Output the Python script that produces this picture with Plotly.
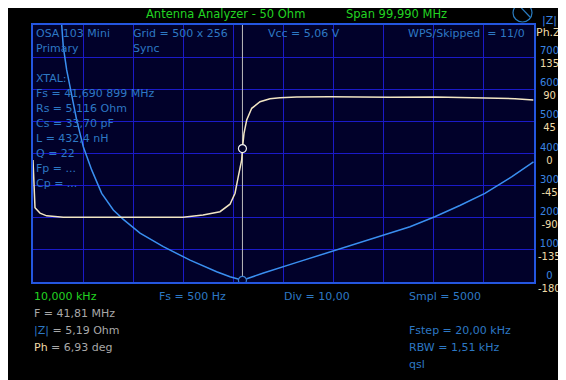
import plotly.graph_objects as go

# ---- data ----
z_freq_mhz = [5.5, 5.74, 6.06, 6.73, 7.73, 8.73, 10.05, 11.72, 13.72, 16.04, 18.03, 21.37,
              26.02, 31.35, 36.67, 39.33, 41.81, 46.0, 52.67, 59.3, 65.97, 71.26, 75.25,
              80.2, 85.2, 90.2, 95.6, 99.9]
z_ohm = [850, 800, 732, 660, 577, 504, 421, 349, 276, 224, 195, 152,
         110, 68, 32, 16.5, 5.19, 28, 61, 93, 125, 152, 172,
         203, 238, 276, 328, 374]

ph_freq_mhz = [0.01, 0.21, 0.41, 1.41, 2.74, 6.06, 15.0, 29.95, 33.94, 37.33, 39.33, 40.33,
               40.98, 41.66, 41.81, 42.12, 42.66, 43.66, 45.32, 47.31, 49.31, 52.64, 59.29,
               71.26, 80.24, 90.22, 96.2, 99.86]
ph_deg = [-9, -45, -76, -83.5, -87.3, -89.4, -89.4, -89.4, -86.1, -81.5, -71, -55.7,
          -32.5, -9.1, 6.93, 28.3, 46.9, 63.3, 72.5, 76.8, 78.2, 79.1, 79.6,
          78.7, 79.1, 78.2, 76.8, 75.0]

marker_f = 41.81
marker_z = 5.19
marker_ph = 6.93

f_start, f_stop = 0.01, 100.0
z_ticks = [0, 100, 200, 300, 400, 500, 600, 700]
ph_ticks = [-180, -135, -90, -45, 0, 45, 90, 135]

header_left = ["OSA 103 Mini", "Primary"]
header_mid = ["Grid = 500 x 256", "Sync"]
xtal_lines = ["XTAL:", "Fs = 41,690 899 MHz", "Rs = 5,116 Ohm", "Cs = 33,70 pF",
              "L = 432,4 nH", "Q = 22", "Fp = ...", "Cp = ..."]

# ---- colours / fonts ----
FONT = "DejaVu Sans"
GREEN = "#22d422"
TXT_BLUE = "#2d78c4"
SCALE_BLUE = "#3a84e0"
Z_BLUE = "#3a8ff0"
PH_COL = "#f2e6c4"
PH_LABEL = "#f0dca8"
GREY = "#a8a8a8"
GRID = "#1a1ac8"
FRAME = "#2456e0"

# page offset (default body margin of the html page)
OFF = 8
W, H = 566, 380
L, T, R, B = 33, 25, 534, 282


def px(x):
    return (x - L) / (R - L)


def py(y):
    return (B - y) / (B - T)


fig = go.Figure()

fig.add_trace(go.Scatter(x=ph_freq_mhz, y=ph_deg, yaxis="y2", mode="lines",
                         line=dict(color=PH_COL, width=1.5), hoverinfo="skip"))
fig.add_trace(go.Scatter(x=z_freq_mhz, y=z_ohm, mode="lines",
                         line=dict(color=Z_BLUE, width=1.5), hoverinfo="skip"))
fig.add_trace(go.Scatter(x=[marker_f, marker_f], y=[0, 800], mode="lines",
                         line=dict(color="#bdbdbd", width=1), hoverinfo="skip"))
fig.add_trace(go.Scatter(x=[marker_f], y=[marker_z], mode="markers",
                         marker=dict(size=8, color="#01012a",
                                     line=dict(color="#3a7fd0", width=1.2)),
                         hoverinfo="skip"))
fig.add_trace(go.Scatter(x=[marker_f], y=[marker_ph], yaxis="y2", mode="markers",
                         marker=dict(size=8, color="#01012a",
                                     line=dict(color="#f0f0f0", width=1.2)),
                         hoverinfo="skip"))

ann = []


def text(x, y, s, color, size=11, anchor="left"):
    ann.append(dict(x=px(x), y=py(y), xref="paper", yref="paper", text=s,
                    showarrow=False, xanchor=anchor, yanchor="middle",
                    font=dict(family=FONT, size=size, color=color)))


text(144, 14, "Antenna Analyzer - 50 Ohm", GREEN, 11.5)
text(344, 14, "Span 99,990 MHz", GREEN, 11.5)
text(549, 20.5, "|Z|", SCALE_BLUE, 11, "center")
text(548, 32, "Ph.Z", PH_LABEL, 11, "center")

for i, s in enumerate(header_left):
    text(34, 33.5 + 15 * i, s, TXT_BLUE)
for i, s in enumerate(header_mid):
    text(131, 33.5 + 15 * i, s, TXT_BLUE)
text(266, 34, "Vcc = 5,06 V", TXT_BLUE)
text(406, 34, "WPS/Skipped\u00a0\u00a0= 11/0", TXT_BLUE)
for i, s in enumerate(xtal_lines):
    text(34, 78.5 + 15 * i, s, TXT_BLUE)

text(32, 296, "10,000 kHz", GREEN)
text(157, 296, "Fs = 500 Hz", TXT_BLUE)
text(282, 296, "Div = 10,00", TXT_BLUE)
text(407, 296, "Smpl = 5000", TXT_BLUE)
text(32, 313.5, "F = 41,81 MHz", GREY)
text(32, 330.5, f"<span style='color:{TXT_BLUE}'>|Z|</span> = 5,19 Ohm", GREY)
text(32, 347.5, f"<span style='color:{PH_LABEL}'>Ph</span> = 6,93 deg", GREY)
text(407, 330.5, "Fstep = 20,00 kHz", TXT_BLUE)
text(407, 347.5, "RBW = 1,51 kHz", TXT_BLUE)
text(407, 364.5, "qsl", TXT_BLUE)

# right-hand scale labels: |Z| value above, phase value below each grid line,
# positioned through the |Z| axis' data coordinates
for zv, pv in zip(z_ticks, ph_ticks):
    ann.append(dict(x=px(549), y=zv, xref="paper", yref="y",
                    text=f"<span style='color:{SCALE_BLUE}'>{zv}</span><br>"
                         f"<span style='color:{PH_LABEL}'>{pv}</span>",
                    showarrow=False, xanchor="center", yanchor="middle", align="center",
                    font=dict(family=FONT, size=10, color=SCALE_BLUE)))

shapes = [
    dict(type="circle", xref="paper", yref="paper", x0=px(513), x1=px(532),
         y0=py(22), y1=py(3.5), line=dict(color="#2a7cc0", width=1.2)),
    dict(type="line", xref="paper", yref="paper", x0=px(520), y0=py(6.5),
         x1=px(530), y1=py(17), line=dict(color="#2a7cc0", width=1.2)),
]

fig.update_layout(
    width=W - OFF, height=H - OFF,
    margin=dict(l=L - OFF, r=W - R, t=T - OFF, b=H - B, autoexpand=False),
    paper_bgcolor="black", plot_bgcolor="#01012a",
    showlegend=False,
    xaxis=dict(range=[f_start, f_stop], tick0=f_start, dtick=(f_stop - f_start) / 10,
               showgrid=True, gridcolor=GRID, gridwidth=1, showticklabels=False,
               ticks="", zeroline=False, showline=True, mirror=True,
               linecolor=FRAME, linewidth=1.5),
    yaxis=dict(range=[0, 800], dtick=100, showgrid=True, gridcolor=GRID, gridwidth=1,
               showticklabels=False, ticks="", zeroline=False, showline=True,
               mirror=True, linecolor=FRAME, linewidth=1.5),
    yaxis2=dict(range=[-180, 180], overlaying="y", side="right", showgrid=False,
                showticklabels=False, ticks="", zeroline=False),
    annotations=ann,
    shapes=shapes,
)

fig.write_html("out.html")
